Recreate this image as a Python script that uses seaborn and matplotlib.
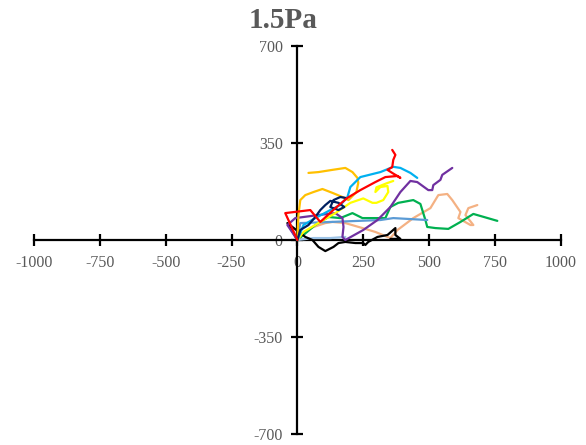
import matplotlib
matplotlib.use("Agg")
import matplotlib.pyplot as plt
import seaborn as sns
import pandas as pd

sns.set_style("white")
plt.rcParams['font.family'] = ['Liberation Serif', 'DejaVu Serif']

# Trajectory data (x, y) for each track
tan_x = [0, 49, 106, 133, 182, 247, 296, 342, 353, 380, 440, 505, 535, 569, 588, 619, 611, 657, 668, 638, 649, 683]
tan_y = [0, 43, 61, 65, 61, 43, 29, 11, 7, 36, 79, 115, 162, 166, 144, 101, 79, 54, 54, 90, 115, 126]
green_x = [0, 68, 118, 163, 209, 247, 334, 353, 383, 440, 467, 486, 493, 524, 573, 619, 668, 759]
green_y = [0, 54, 83, 79, 97, 79, 79, 119, 134, 144, 130, 72, 47, 43, 40, 65, 94, 69]
blue_x = [0, 11, 125, 315, 364, 493]
blue_y = [0, 61, 65, 72, 79, 72]
lblue_x = [0, 61, 125, 182]
lblue_y = [0, 7, 7, 11]
black_x = [0, -38, -19, 30, 57, 80, 106, 137, 156, 182, 220, 250, 258, 269, 304, 342, 372, 372, 391, 353]
black_y = [0, 61, 47, 11, 0, -25, -40, -25, -11, -7, -11, -11, -18, -7, 11, 18, 43, 18, 4, 4]
purple_x = [0, -38, -8, 80, 144, 171, 175, 171, 182, 250, 304, 353, 391, 429, 455, 497, 512, 516, 543, 550, 588]
purple_y = [0, 54, 79, 90, 97, 79, 47, 11, 0, 36, 72, 119, 173, 213, 209, 180, 180, 198, 217, 235, 260]
yellow_x = [0, 23, 87, 144, 201, 250, 285, 300, 326, 345, 342, 315, 296, 300, 340, 364]
yellow_y = [0, 29, 65, 97, 134, 150, 134, 134, 144, 173, 195, 191, 173, 190, 205, 213]
orange_x = [0, 4, 11, 30, 61, 95, 133, 171, 194, 224, 231, 228, 209, 182, 133, 80, 42]
orange_y = [0, 90, 144, 162, 173, 184, 170, 155, 144, 173, 206, 224, 245, 260, 253, 245, 242]
sky_x = [0, 23, 68, 125, 163, 190, 201, 239, 315, 364, 391, 429, 455]
sky_y = [0, 54, 79, 108, 126, 155, 191, 227, 245, 264, 260, 242, 224]
navy_x = [0, 11, 42, 68, 87, 106, 125, 156, 178, 156, 125, 137, 163, 182]
navy_y = [0, 36, 54, 83, 108, 126, 141, 134, 119, 108, 119, 144, 155, 152]
red_x = [0, -46, 49, 87, 144, 190, 239, 296, 334, 380, 391, 360, 342, 360, 364, 372, 360]
red_y = [0, 97, 108, 65, 115, 152, 180, 209, 227, 231, 224, 242, 253, 263, 289, 307, 325]

tracks = {
    "tan": (tan_x, tan_y, "#F4B183"),
    "green": (green_x, green_y, "#00B050"),
    "blue": (blue_x, blue_y, "#5B9BD5"),
    "lightblue": (lblue_x, lblue_y, "#9DC3E6"),
    "black": (black_x, black_y, "#000000"),
    "purple": (purple_x, purple_y, "#7030A0"),
    "yellow": (yellow_x, yellow_y, "#FFFF00"),
    "orange": (orange_x, orange_y, "#FFC000"),
    "sky": (sky_x, sky_y, "#00B0F0"),
    "navy": (navy_x, navy_y, "#002060"),
    "red": (red_x, red_y, "#FF0000"),
}

rows = []
for name, (xs, ys, c) in tracks.items():
    for i, (xv, yv) in enumerate(zip(xs, ys)):
        rows.append({"track": name, "step": i, "x": xv, "y": yv})
df = pd.DataFrame(rows)
palette = {k: v[2] for k, v in tracks.items()}

xticks = [-1000, -750, -500, -250, 0, 250, 500, 750, 1000]
yticks = [-700, -350, 0, 350, 700]

fig = plt.figure(figsize=(5.86, 4.45), dpi=100)
ax = fig.add_axes([0.058, 0.0247, 0.899, 0.872])

sns.lineplot(data=df, x="x", y="y", hue="track", units="track", estimator=None,
             sort=False, palette=palette, hue_order=list(tracks.keys()),
             linewidth=1.6, legend=False, ax=ax)

ax.set_xlim(-1000, 1000)
ax.set_ylim(-700, 700)
ax.spines['left'].set_position(('data', 0))
ax.spines['bottom'].set_position(('data', 0))
ax.spines['top'].set_visible(False)
ax.spines['right'].set_visible(False)
for s in ('left', 'bottom'):
    ax.spines[s].set_linewidth(1.6)
    ax.spines[s].set_color('black')
    ax.spines[s].set_zorder(1)

ax.set_xticks(xticks)
ax.set_yticks(yticks)
ax.set_xticklabels([str(v) for v in xticks])
ax.set_yticklabels([str(v) for v in yticks])
ax.tick_params(axis='both', which='major', bottom=True, left=True, top=False, right=False,
               direction='inout', length=9, width=1.6, color='black',
               labelsize=11.5, labelcolor='#595959', pad=6)
ax.set_xlabel("")
ax.set_ylabel("")
ax.patch.set_alpha(0)

fig.text(283 / 586, 1 - 21 / 445, "1.5Pa", ha='center', va='center',
         fontsize=21, fontweight='bold', color='#595959')

fig.savefig("out.png", dpi=100)
